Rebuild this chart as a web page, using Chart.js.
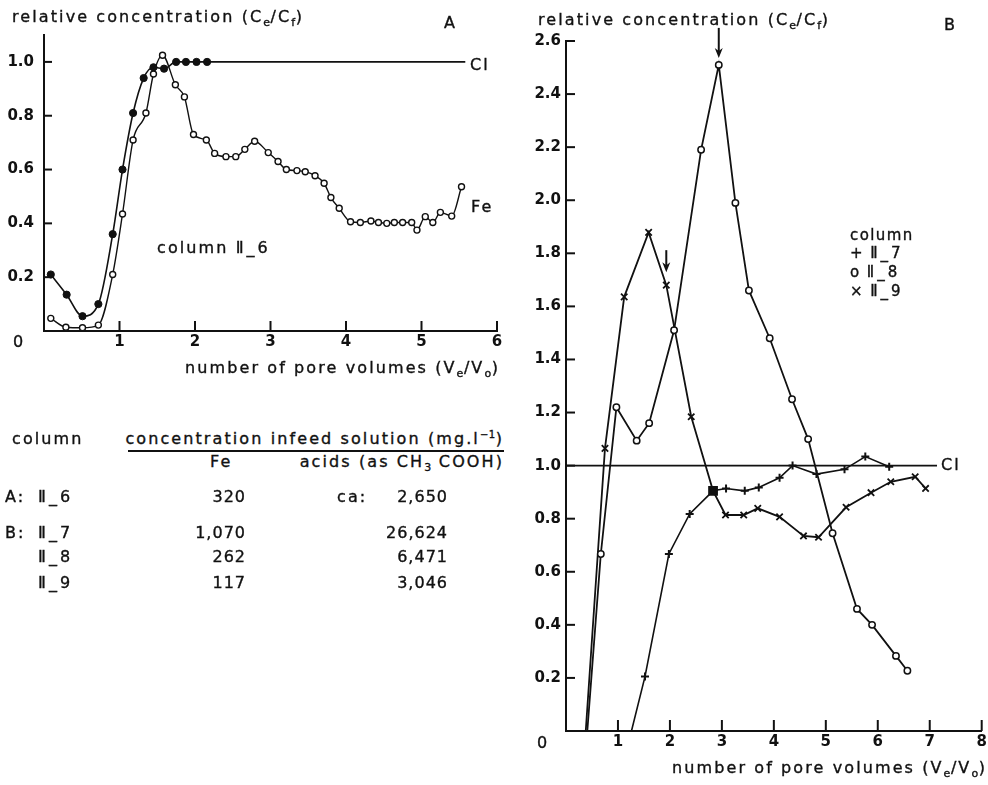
<!DOCTYPE html>
<html><head><meta charset="utf-8">
<script src="https://cdn.jsdelivr.net/npm/chart.js@4/dist/chart.umd.min.js"></script>
<style>
html,body{margin:0;padding:0;background:#fff;}
body{width:988px;height:785px;position:relative;overflow:hidden;font-family:"DejaVu Sans",sans-serif;color:#111;}
.t{position:absolute;white-space:nowrap;font-size:16px;line-height:20px;letter-spacing:2.1px;-webkit-text-stroke:0.35px #111;}
.n{letter-spacing:1px;}
.rn{letter-spacing:3px;}
.r{text-align:right;width:120px;}
.box{position:absolute;}
sub{font-size:11px;vertical-align:-4px;line-height:0;letter-spacing:0.5px;}
sup{font-size:10px;vertical-align:6px;line-height:0;letter-spacing:0.5px;}
.lg{font-size:15px;line-height:18px;letter-spacing:1.4px;}
</style></head><body>
<div class="box" style="left:0;top:0;width:510px;height:400px"><canvas id="ca"></canvas></div>
<div class="box" style="left:510px;top:0;width:478px;height:785px"><canvas id="cb"></canvas></div>

<div class="t" style="left:12px;top:7px">relative concentration (C<sub>e</sub>/C<sub>f</sub>)</div>
<div class="t" style="left:444px;top:13px">A</div>
<div class="t" style="left:470px;top:55px">Cl</div>
<div class="t" style="left:471px;top:197px">Fe</div>
<div class="t" style="left:157px;top:238px">column <span class="rn">Ⅱ_6</span></div>
<div class="t" style="left:13px;top:332px">0</div>
<div class="t" style="right:488px;top:358px">number of pore volumes (V<sub>e</sub>/V<sub>o</sub>)</div>

<div class="t" style="left:538px;top:10px">relative concentration (C<sub>e</sub>/C<sub>f</sub>)</div>
<div class="t" style="left:944px;top:15px">B</div>
<div class="t" style="left:941px;top:455px">Cl</div>
<div class="t lg" style="left:850px;top:226px">column</div>
<div class="t lg" style="left:850px;top:244px">+ <span class="rn">Ⅱ_7</span></div>
<div class="t lg" style="left:850px;top:263px">o <span class="rn">Ⅱ_8</span></div>
<div class="t lg" style="left:850px;top:282px">× <span class="rn">Ⅱ_9</span></div>
<div class="t" style="left:537px;top:733px">0</div>
<div class="t" style="right:1px;top:758px">number of pore volumes (V<sub>e</sub>/V<sub>o</sub>)</div>

<div id="table"></div>

<script>
// ---------- Panel A data (column II_6) ----------
const clA_x = [0.09,0.30,0.51,0.72,0.91,1.04,1.18,1.32,1.45,1.59,1.75,1.88,2.02,2.16,5.58];
const clA_y = [0.21,0.135,0.055,0.10,0.36,0.60,0.81,0.94,0.98,0.975,1.0,1.0,1.0,1.0,1.0];
const feA_x = [0.09,0.29,0.51,0.72,0.91,1.04,1.18,1.35,1.45,1.57,1.74,1.86,1.98,2.15,2.26,2.41,2.54,2.66,2.79,2.97,3.10,3.21,3.35,3.46,3.59,3.71,3.80,3.91,4.06,4.19,4.33,4.43,4.54,4.64,4.75,4.87,4.94,5.05,5.15,5.25,5.40,5.53];
const feA_y = [0.047,0.014,0.012,0.022,0.21,0.435,0.71,0.81,0.955,1.025,0.915,0.87,0.73,0.71,0.66,0.648,0.648,0.675,0.705,0.663,0.63,0.60,0.596,0.592,0.577,0.549,0.496,0.456,0.406,0.403,0.409,0.403,0.40,0.403,0.403,0.403,0.375,0.425,0.403,0.441,0.427,0.536];
const ticksA_x = [1,2,3,4,5,6];
const ticksA_y = [0.2,0.4,0.6,0.8,1.0];

// ---------- Panel B data (columns II_7, II_8, II_9) ----------
const ii7_x = [1.26,1.52,1.98,2.38,2.83,3.08,3.44,3.71,4.11,4.36,4.82,5.36,5.76,6.22];
const ii7_y = [0,0.205,0.667,0.818,0.905,0.914,0.905,0.918,0.954,1.0,0.968,0.986,1.034,0.996];
const ii8_x = [0.41,0.67,0.97,1.36,1.60,2.08,2.60,2.94,3.26,3.52,3.92,4.35,4.66,5.13,5.60,5.89,6.35,6.57];
const ii8_y = [0,0.667,1.22,1.094,1.16,1.51,2.19,2.51,1.99,1.66,1.48,1.25,1.10,0.745,0.46,0.40,0.283,0.227];
const ii9_x = [0.38,0.75,1.12,1.59,1.93,2.41,2.83,3.07,3.42,3.69,4.11,4.57,4.86,5.39,5.87,6.25,6.72,6.92];
const ii9_y = [0,1.065,1.636,1.879,1.68,1.184,0.905,0.814,0.814,0.839,0.807,0.735,0.73,0.843,0.898,0.939,0.958,0.914];
const clB_x = [0,7.14];
const clB_y = [1.0,1.0];
const arrowsB_x = [2.94,1.93];
const arrowsB_y = [2.51,1.68];
const ticksB_x = [1,2,3,4,5,6,7,8];
const ticksB_y = [0.2,0.4,0.6,0.8,1.0,1.2,1.4,1.6,1.8,2.0,2.2,2.4,2.6];

// ---------- Table text ----------
const tblGroup = ['A:','B:','',''];
const tblColumn = ['Ⅱ_6','Ⅱ_7','Ⅱ_8','Ⅱ_9'];
const tblFe = ['320','1,070','262','117'];
const tblAcids = ['2,650','26,624','6,471','3,046'];
const tblRowY = [487,523,547,573];

(function buildTable(){
  let h = '';
  h += '<div class="t" style="left:12px;top:429px">column</div>';
  h += '<div class="t" style="right:484px;top:429px">concentration infeed solution (mg.l<sup>−1</sup>)</div>';
  h += '<div style="position:absolute;left:128px;top:450px;width:376px;height:2px;background:#111"></div>';
  h += '<div class="t" style="left:210px;top:452px">Fe</div>';
  h += '<div class="t" style="right:484px;top:452px">acids (as CH<sub>3</sub> COOH)</div>';
  tblColumn.forEach((c,i)=>{
    const y = tblRowY[i];
    if (tblGroup[i]) h += `<div class="t" style="left:5px;top:${y}px">${tblGroup[i]}</div>`;
    h += `<div class="t rn" style="left:38px;top:${y}px">${c}</div>`;
    h += `<div class="t r n" style="left:126px;top:${y}px">${tblFe[i]}</div>`;
    h += `<div class="t r n" style="left:328px;top:${y}px">${tblAcids[i]}</div>`;
  });
  h += `<div class="t" style="left:337px;top:${tblRowY[0]}px">ca:</div>`;
  document.getElementById('table').innerHTML = h;
})();

const pts = (xs, ys) => xs.map((x,i)=>({x, y: ys[i]}));
const INK = '#111';
Chart.defaults.font.family = '"DejaVu Sans", sans-serif';
Chart.defaults.font.size = 15;
Chart.defaults.font.weight = 'bold';
Chart.defaults.color = INK;

const inwardTicks = {
  id: 'inwardTicks',
  afterDraw(chart, args, o) {
    const {ctx, chartArea: a, scales: {x, y}} = chart;
    ctx.save(); ctx.strokeStyle = INK; ctx.lineWidth = 2;
    x.ticks.forEach(t => { const p = x.getPixelForValue(t.value); ctx.beginPath(); ctx.moveTo(p, a.bottom); ctx.lineTo(p, a.bottom - o.xl); ctx.stroke(); });
    y.ticks.forEach(t => { const p = y.getPixelForValue(t.value); ctx.beginPath(); ctx.moveTo(a.left, p); ctx.lineTo(a.left + o.yl, p); ctx.stroke(); });
    ctx.restore();
  }
};

const arrows = {
  id: 'arrows',
  afterDatasetsDraw(chart, args, o) {
    if (!o.xs) return;
    const {ctx, scales: {x, y}} = chart;
    ctx.save(); ctx.strokeStyle = INK; ctx.fillStyle = INK; ctx.lineWidth = 2;
    o.xs.forEach((xv, i) => {
      const px = x.getPixelForValue(xv), py = y.getPixelForValue(o.ys[i]);
      const tip = py - o.gap[i], top = tip - o.len[i];
      ctx.beginPath(); ctx.moveTo(px, top); ctx.lineTo(px, tip - 6); ctx.stroke();
      ctx.beginPath(); ctx.moveTo(px, tip); ctx.lineTo(px - 4, tip - 10); ctx.lineTo(px, tip - 7); ctx.lineTo(px + 4, tip - 10); ctx.closePath(); ctx.fill();
    });
    ctx.restore();
  }
};

function axes(xmin, xmax, ymin, ymax, xt, yt, yw, ypad, xpad) {
  return {
    x: { type: 'linear', min: xmin, max: xmax,
      afterBuildTicks: s => { s.ticks = xt.map(v => ({value: v})); },
      afterFit: s => { s.height = 30; s.paddingLeft = 0; s.paddingRight = 0; },
      grid: { display: false, drawTicks: false },
      border: { display: true, color: INK, width: 2 },
      ticks: { padding: xpad, callback: v => String(v), maxRotation: 0, autoSkip: false, color: INK } },
    y: { type: 'linear', min: ymin, max: ymax,
      afterBuildTicks: s => { s.ticks = yt.map(v => ({value: v})); },
      afterFit: s => { s.width = yw; s.paddingTop = 0; s.paddingBottom = 0; },
      grid: { display: false, drawTicks: false },
      border: { display: true, color: INK, width: 2 },
      ticks: { padding: ypad, callback: v => v.toFixed(1), autoSkip: false, color: INK } }
  };
}

new Chart(document.getElementById('ca'), {
  type: 'scatter',
  data: { datasets: [
    { label: 'Cl', data: pts(clA_x, clA_y), showLine: true, borderColor: INK, borderWidth: 1.6,
      cubicInterpolationMode: 'monotone',
      pointRadius: c => c.dataIndex === clA_x.length - 1 ? 0 : 3.6,
      pointBackgroundColor: INK, pointBorderColor: INK, pointBorderWidth: 1 },
    { label: 'Fe', data: pts(feA_x, feA_y), showLine: true, borderColor: INK, borderWidth: 1.4,
      cubicInterpolationMode: 'monotone',
      pointRadius: 3, pointBackgroundColor: '#fff', pointBorderColor: INK, pointBorderWidth: 1.4 }
  ]},
  options: {
    responsive: true, maintainAspectRatio: false, animation: false,
    layout: { padding: { left: 0, top: 35, right: 13, bottom: 39 } },
    plugins: { legend: { display: false }, tooltip: { enabled: false }, inwardTicks: { xl: 10, yl: 8 } },
    scales: axes(0, 6, 0, 1.1, ticksA_x, ticksA_y, 44, 10, 2)
  },
  plugins: [inwardTicks]
});

new Chart(document.getElementById('cb'), {
  type: 'scatter',
  data: { datasets: [
    { label: 'Cl', data: pts(clB_x, clB_y), showLine: true, borderColor: INK, borderWidth: 1.6, pointRadius: 0 },
    { label: 'II_8', data: pts(ii8_x, ii8_y), showLine: true, borderColor: INK, borderWidth: 1.8,
      pointRadius: c => c.dataIndex === 0 ? 0 : 3.2, pointBackgroundColor: '#fff', pointBorderColor: INK, pointBorderWidth: 1.5 },
    { label: 'II_9', data: pts(ii9_x, ii9_y), showLine: true, borderColor: INK, borderWidth: 1.8,
      pointStyle: 'crossRot', pointRadius: c => c.dataIndex === 0 ? 0 : 4.5, pointBorderColor: INK, pointBorderWidth: 1.8 },
    { label: 'II_7', data: pts(ii7_x, ii7_y), showLine: true, borderColor: INK, borderWidth: 1.6,
      pointStyle: c => c.dataIndex === 4 ? 'rect' : 'cross',
      pointRadius: c => c.dataIndex === 0 ? 0 : (c.dataIndex === 4 ? 5.5 : 4),
      pointBackgroundColor: INK, pointBorderColor: INK, pointBorderWidth: 2 }
  ]},
  options: {
    responsive: true, maintainAspectRatio: false, animation: false,
    layout: { padding: { left: 0, top: 41, right: 5, bottom: 24 } },
    plugins: { legend: { display: false }, tooltip: { enabled: false },
      inwardTicks: { xl: 11, yl: 9 },
      arrows: { xs: arrowsB_x, ys: arrowsB_y, gap: [7, 13], len: [30, 22] } },
    scales: axes(0, 8, 0, 2.6, ticksB_x, ticksB_y, 56, 5, 2)
  },
  plugins: [inwardTicks, arrows]
});
</script>
</body></html>
